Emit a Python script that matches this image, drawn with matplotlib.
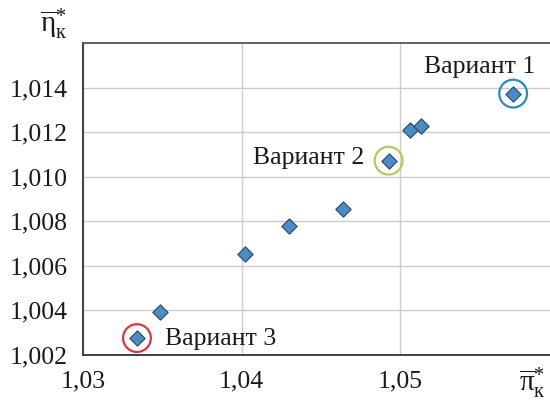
import matplotlib.pyplot as plt

plt.rcParams['font.family'] = ['Liberation Serif', 'DejaVu Serif']
plt.rcParams['mathtext.fontset'] = 'custom'
plt.rcParams['mathtext.rm'] = 'Liberation Serif'
plt.rcParams['mathtext.it'] = 'Liberation Serif:italic'

# pi_k* (x) and eta_k* (y) values
pi_k = [1.03339, 1.03484, 1.04025, 1.04300, 1.04640, 1.04930, 1.05064, 1.05132, 1.05717]
eta_k = [1.00276, 1.00392, 1.00651, 1.00778, 1.00853, 1.01072, 1.01210, 1.01229, 1.01373]

variant_names = ['Вариант 1', 'Вариант 2', 'Вариант 3']
variant_idx = [8, 5, 0]
variant_colors = ['#2a8bc3', '#b8c95c', '#d9363e']

x_ticks = [1.03, 1.04, 1.05]
x_tick_labels = ['1,03', '1,04', '1,05']
y_ticks = [1.002, 1.004, 1.006, 1.008, 1.010, 1.012, 1.014]
y_tick_labels = ['1,002', '1,004', '1,006', '1,008', '1,010', '1,012', '1,014']

fig = plt.figure(figsize=(5.5, 4.03), dpi=100)
ax = fig.add_axes([0.1515, 0.1191, 0.8485, 0.7742])

ax.scatter(pi_k, eta_k, marker='D', s=60, color='#4a8cc8', edgecolor='#34506a',
           linewidth=0.9, zorder=3)

# circles around variants and their labels
offsets = [(-63.9, 14.9, 'left'), (-17.3, -2.2, 'right'), (20.2, -5.0, 'left')]
for name, i, c, (dx, dy, ha) in zip(variant_names, variant_idx, variant_colors, offsets):
    ax.scatter([pi_k[i]], [eta_k[i]], marker='o', s=400, facecolors='none',
               edgecolors=c, linewidths=1.6, zorder=4)
    ax.annotate(name, (pi_k[i], eta_k[i]), xytext=(dx, dy), textcoords='offset points',
                ha=ha, va='baseline', fontsize=18.5, color='#1a1a1a')

ax.set_xlim(1.03, 1.0595)
ax.set_ylim(1.002, 1.016)
ax.set_xticks(x_ticks)
ax.set_xticklabels(x_tick_labels)
ax.set_yticks(y_ticks)
ax.set_yticklabels(y_tick_labels)
ax.tick_params(length=0, labelsize=18.5, pad=11, colors='#1a1a1a')

ax.grid(True, color='#cccccc', linewidth=1.0)
ax.set_axisbelow(True)

ax.spines['right'].set_visible(False)
ax.spines['top'].set_color('#555555')
ax.spines['left'].set_color('#333333')
ax.spines['bottom'].set_color('#333333')
for s in ['top', 'left', 'bottom']:
    ax.spines[s].set_linewidth(1.3)

fig.text(0.097, 0.985, r'$\overline{\mathrm{η}}^{*}_{\mathrm{к}}$', ha='center', va='top',
         fontsize=21, color='#1a1a1a')
fig.text(0.993, 0.005, r'$\overline{\mathrm{π}}^{*}_{\mathrm{к}}$', ha='right', va='bottom',
         fontsize=21, color='#1a1a1a')

fig.savefig('out.png', dpi=100)
